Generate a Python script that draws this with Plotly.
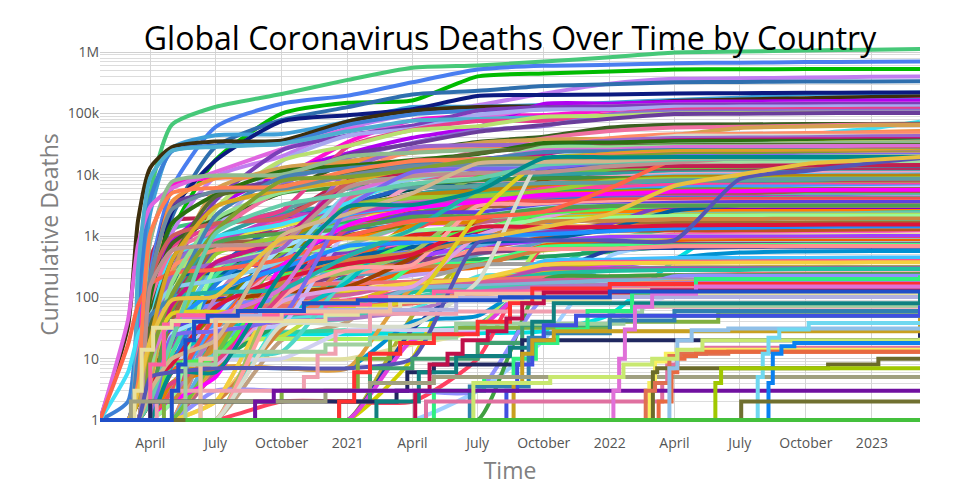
import plotly.graph_objects as go

# ---------------- dates (knots shared by the smooth series) ----------------
grid_dates = ['2020-01-22', '2020-03-01', '2020-03-15', '2020-04-01', '2020-05-01', '2020-07-01',
              '2020-10-01', '2021-01-01', '2021-04-01', '2021-07-01', '2021-10-01', '2022-01-01',
              '2022-04-01', '2022-07-01', '2022-10-01', '2023-01-01', '2023-03-09']

# ---------------- large countries ----------------
top_names = ['US', 'Brazil', 'India', 'Russia', 'Mexico', 'United Kingdom', 'Peru', 'Italy', 'Germany',
             'France', 'Indonesia', 'Iran', 'Colombia', 'Argentina', 'Spain', 'Poland', 'Ukraine',
             'South Africa', 'Turkey', 'Japan', 'Romania', 'Philippines', 'Chile', 'Canada', 'Hungary',
             'Vietnam', 'Czechia', 'Malaysia', 'Bulgaria', 'Ecuador', 'Greece', 'Thailand', 'Korea, South',
             'Belgium', 'Pakistan', 'Bangladesh', 'Tunisia', 'Portugal', 'Iraq', 'Egypt', 'Sweden',
             'Netherlands', 'Bolivia', 'Austria', 'Slovakia', 'Guatemala', 'Paraguay', 'Burma', 'Taiwan',
             'Australia']
top_colors = ['#46c878', '#4a7ef0', '#00bb00', '#c07ef0', '#2f6fae', '#3fa0d8', '#0c1a80', '#3d2e0c', '#ff10d2',
              '#3c7fd6', '#b000f0', '#e066e0', '#7a3fb8', '#a8a8f0', '#4eb0d0', '#e83e8c', '#8c6fd0',
              '#b8e070', '#6a3d9a', '#40e0f8', '#3a6020', '#f070a0', '#d4a050', '#f39040', '#ff8c69',
              '#d6dccc', '#9966cc', '#20b2aa', '#c71585', '#2a7010', '#87ceeb', '#e0d020', '#ff6347',
              '#8fbc8f', '#556b2f', '#90e090', '#da70d6', '#cd5c5c', '#4682b4', '#daa520', '#6a8aa0',
              '#ff7f50', '#80a030', '#bc8f8f', '#7b68ee', '#66cdaa', '#d2b48c', '#008b8b', '#5555b5',
              '#e8c040']
top_deaths = [
    [1, 1, 60, 5100, 65000, 128000, 207000, 352000, 555000, 605000, 700000, 825000, 985000, 1018000, 1062000, 1092000, 1123000],
    [1, 1, 1, 240, 6000, 60000, 144000, 195000, 322000, 520000, 598000, 619000, 660000, 672000, 686000, 693000, 699000],
    [1, 1, 2, 40, 1150, 17400, 99000, 149000, 162000, 402000, 449000, 481000, 521000, 525000, 528700, 530700, 530780],
    [1, 1, 1, 17, 1100, 9300, 20000, 57000, 99000, 136000, 210000, 306000, 366000, 373000, 385000, 395000, 399000],
    [1, 1, 1, 28, 2000, 28500, 78000, 126500, 204000, 234000, 279000, 299000, 323000, 326000, 330000, 331000, 333000],
    [1, 1, 21, 2400, 27000, 44000, 46000, 74000, 127000, 128000, 137000, 149000, 166000, 180000, 208000, 213000, 220000],
    [1, 1, 1, 30, 2500, 17000, 74000, 93000, 117000, 192000, 199000, 202700, 212000, 213500, 216500, 219000, 219500],
    [1, 34, 1800, 13000, 28000, 34800, 35900, 74000, 110000, 127500, 131000, 137500, 160000, 169000, 177000, 185000, 188000],
    [1, 1, 10, 900, 6700, 9000, 9500, 34000, 77000, 91000, 94000, 113000, 130000, 141000, 150000, 163000, 168000],
    [1, 2, 90, 4000, 24000, 29800, 32000, 65000, 96000, 111000, 117000, 126000, 143000, 150000, 156000, 162000, 165000],
    [1, 1, 1, 150, 800, 3000, 10800, 22300, 40000, 60000, 142000, 144000, 155000, 156500, 158000, 160600, 160900],
    [1, 43, 720, 3000, 6000, 11100, 26000, 55000, 62000, 84000, 122000, 131000, 140000, 141500, 144500, 144700, 144900],
    [1, 1, 1, 16, 270, 3800, 25000, 43500, 63000, 111000, 126000, 130000, 139000, 140000, 141700, 142400, 142700],
    [1, 1, 1, 24, 200, 1300, 16500, 43300, 56000, 94000, 115600, 117200, 128000, 129000, 130000, 130400, 130500],
    [1, 1, 290, 9000, 24500, 28400, 32000, 51000, 75800, 81000, 86800, 90000, 102500, 108000, 114000, 117000, 119500],
    [1, 1, 1, 57, 650, 1450, 2600, 28600, 54000, 75000, 76000, 97000, 115000, 116500, 117500, 118600, 119000],
    [1, 1, 1, 22, 300, 1300, 6800, 18900, 33000, 52500, 62000, 95000, 107000, 108500, 109500, 110000, 110500],
    [1, 1, 1, 5, 100, 2800, 17000, 29500, 53000, 62000, 88000, 91000, 100000, 101600, 102200, 102600, 102600],
    [1, 1, 1, 170, 3300, 5200, 8400, 21000, 32000, 50000, 65000, 82000, 98000, 99000, 101000, 101400, 101400],
    [1, 6, 24, 60, 450, 980, 1560, 3450, 9200, 14900, 18100, 18400, 28500, 31400, 45000, 57000, 73000],
    [1, 1, 1, 70, 750, 1900, 5100, 15800, 24000, 34200, 41500, 58800, 65400, 65800, 67000, 67400, 67700],
    [1, 1, 12, 90, 570, 1250, 5600, 9300, 13400, 24500, 39000, 51500, 59000, 60500, 63000, 65800, 66000],
    [1, 1, 1, 4, 230, 5700, 12900, 16600, 23000, 33000, 37500, 39000, 44500, 58000, 61000, 64000, 64400],
    [1, 1, 2, 110, 3600, 8700, 9300, 15700, 23000, 26300, 28000, 30400, 37800, 42000, 45000, 49700, 51700],
    [1, 1, 1, 15, 310, 590, 750, 9500, 24500, 30000, 30300, 39500, 45600, 46300, 47700, 48600, 48700],
    [1, 1, 1, 1, 1, 1, 35, 35, 35, 180, 20000, 32500, 43000, 43090, 43150, 43180, 43186],
    [1, 1, 1, 9, 230, 350, 620, 11600, 27600, 30300, 30800, 36200, 39700, 40300, 41000, 42500, 42800],
    [1, 1, 1, 43, 100, 121, 136, 471, 1290, 5700, 27500, 31500, 35500, 35800, 36400, 36900, 36960],
    [1, 1, 1, 8, 75, 370, 860, 7600, 15600, 18000, 21700, 31500, 36500, 37200, 37900, 38100, 38200],
    [1, 1, 2, 98, 1600, 4700, 11400, 14000, 17400, 21800, 32900, 33600, 35500, 35700, 35900, 36000, 36000],
    [1, 1, 1, 50, 140, 190, 400, 4800, 8400, 12800, 14800, 21000, 28600, 29700, 32600, 34000, 34700],
    [1, 1, 1, 12, 54, 58, 59, 67, 94, 2200, 17600, 21700, 27600, 30700, 33000, 33900, 34000],
    [1, 17, 75, 165, 248, 282, 415, 980, 1740, 2030, 2500, 6000, 17600, 24600, 28400, 32200, 34000],
    [1, 1, 4, 830, 7600, 9750, 10000, 19900, 22800, 25200, 25600, 28400, 31000, 31700, 32700, 33400, 33700],
    [1, 1, 1, 34, 390, 4400, 6400, 10600, 14600, 22500, 28200, 29000, 30300, 30400, 30600, 30640, 30650],
    [1, 1, 1, 6, 170, 1900, 5100, 7600, 8900, 15200, 27700, 28100, 29100, 29140, 29320, 29440, 29445],
    [1, 1, 1, 10, 40, 50, 140, 4700, 10000, 16400, 25000, 25600, 28400, 28600, 29200, 29300, 29300],
    [1, 1, 1, 190, 980, 1600, 1970, 7100, 16900, 17100, 18000, 19000, 22000, 24300, 25000, 25800, 26000],
    [1, 1, 10, 50, 100, 2160, 9000, 12800, 15000, 17500, 23400, 24200, 25200, 25300, 25360, 25370, 25375],
    [1, 1, 2, 20, 400, 3000, 5600, 7700, 12800, 16500, 18000, 22000, 24400, 24600, 24700, 24800, 24810],
    [1, 1, 3, 200, 2700, 5400, 5900, 9700, 13800, 14600, 14900, 15300, 18300, 19000, 20300, 22500, 23700],
    [1, 1, 4, 1100, 5000, 6100, 6400, 11500, 16600, 17800, 18200, 20900, 22100, 22400, 22700, 22900, 22990],
    [1, 1, 1, 10, 110, 1200, 7900, 9200, 12000, 17600, 18800, 19600, 21800, 21950, 22150, 22300, 22330],
    [1, 1, 1, 150, 580, 700, 800, 6200, 9500, 10700, 11000, 13800, 15800, 18700, 20500, 21800, 22000],
    [1, 1, 1, 1, 23, 28, 48, 2800, 11000, 12500, 12800, 16800, 19900, 20100, 20500, 20900, 21000],
    [1, 1, 1, 2, 20, 1100, 3200, 4800, 7100, 8700, 14500, 16100, 17700, 18500, 19800, 20000, 20100],
    [1, 1, 1, 3, 10, 20, 1000, 2300, 5000, 15300, 16200, 16700, 18800, 19100, 19500, 19800, 19900],
    [1, 1, 1, 1, 6, 6, 250, 3000, 3200, 5400, 18700, 19100, 19400, 19400, 19430, 19480, 19490],
    [1, 1, 1, 5, 6, 7, 7, 7, 10, 780, 846, 851, 855, 8500, 11500, 15600, 18500],
    [1, 1, 3, 20, 90, 104, 900, 909, 910, 915, 1400, 2300, 6600, 10000, 15000, 17500, 19500],
]

# ---------------- medium countries ----------------
mid_names = ['Georgia', 'Croatia', 'Serbia', 'Sri Lanka', 'Morocco', 'Bosnia and Herzegovina', 'Kazakhstan',
             'Jordan', 'Switzerland', 'Israel', 'Nepal', 'Moldova', 'Honduras', 'Lebanon', 'Cuba', 'Azerbaijan',
             'Lithuania', 'Saudi Arabia', 'Afghanistan', 'Ethiopia', 'Uruguay', 'Costa Rica', 'Finland',
             'Ireland', 'Denmark', 'Belarus', 'Slovenia', 'Algeria', 'Libya', 'Latvia', 'Venezuela', 'Kenya',
             'Zimbabwe', 'Norway', 'Sudan', 'Oman', 'Dominican Republic', 'Trinidad and Tobago', 'El Salvador',
             'Namibia', 'Zambia', 'Jamaica', 'Uganda', 'Albania', 'Kosovo', 'Syria', 'Nigeria',
             'North Macedonia', 'Armenia', 'Panama', 'West Bank and Gaza', 'Yemen', 'Angola',
             'Congo (Kinshasa)', 'Bahrain']
mid_colors = ['#d0a020', '#007890', '#005040', '#50d8c8', '#60a890', '#a0e0a0', '#4050e0', '#e06090', '#c02050',
              '#2060c0', '#70c040', '#b03060', '#30a0a0', '#f0a0c0', '#a04000', '#60c0f0', '#8080ff', '#409040',
              '#e0e040', '#c080c0', '#00c0c0', '#ff6020', '#8040c0', '#40c080', '#d04040', '#6060a0', '#a0a040',
              '#ff40a0', '#40a0ff', '#c0c0ff', '#808000', '#20c060', '#e08000', '#0060a0', '#a06040', '#40e0a0',
              '#c040c0', '#e0a0e0', '#2080e0', '#a0c060', '#f05050', '#50f050', '#ffa0a0', '#6040e0', '#a0e0ff',
              '#e04080', '#50a050', '#b8860b', '#9acd32', '#5f9ea0', '#ff00ff', '#98fb98', '#cd853f',
              '#1e90ff', '#dc143c']
mid_deaths = [
    [1, 1, 1, 1, 4, 15, 600, 2500, 3900, 5900, 11600, 14000, 16700, 16800, 16900, 17000, 17100],
    [1, 1, 1, 6, 80, 110, 320, 4100, 6500, 8250, 8900, 12400, 15600, 16000, 16700, 17600, 17900],
    [1, 1, 1, 15, 200, 280, 760, 3200, 5800, 7100, 7900, 12700, 15800, 16100, 16800, 17500, 17900],
    [1, 1, 1, 2, 7, 11, 13, 210, 560, 3300, 13300, 15000, 16500, 16530, 16800, 16830, 16840],
    [1, 1, 1, 50, 180, 230, 1800, 7400, 8800, 9300, 14300, 14800, 16050, 16100, 16270, 16290, 16296],
    [1, 1, 1, 10, 50, 180, 750, 4000, 7000, 9300, 11800, 14700, 15700, 15800, 16000, 16200, 16280],
    [1, 1, 1, 1, 19, 190, 1900, 2900, 3500, 4900, 12500, 13600, 13700, 13700, 13700, 13700, 13700],
    [1, 1, 1, 5, 9, 9, 130, 4000, 8500, 10100, 10800, 12500, 14000, 14070, 14100, 14120, 14122],
    [1, 1, 2, 430, 1750, 1960, 2070, 8300, 10400, 10900, 11200, 12300, 13700, 13900, 14100, 14300, 14400],
    [1, 1, 1, 16, 210, 320, 1700, 3300, 6200, 6430, 7900, 8250, 10600, 11000, 11500, 12000, 12400],
    [1, 1, 1, 1, 1, 11, 500, 1970, 3040, 9100, 11100, 11600, 11950, 11950, 12000, 12020, 12020],
    [1, 1, 1, 2, 80, 800, 1200, 2800, 4800, 6200, 6800, 10500, 11400, 11600, 11800, 11990, 12000],
    [1, 1, 1, 20, 110, 900, 2400, 3100, 4700, 6800, 10100, 10400, 10880, 10960, 11000, 11080, 11100],
    [1, 1, 1, 18, 25, 34, 420, 1460, 6800, 7880, 8300, 9200, 10300, 10400, 10700, 10800, 10800],
    [1, 1, 1, 6, 64, 86, 120, 150, 440, 1800, 8300, 8320, 8530, 8530, 8530, 8530, 8530],
    [1, 1, 1, 5, 25, 280, 420, 2800, 3600, 4800, 6000, 8400, 9700, 9750, 9900, 10000, 10050],
    [1, 1, 1, 8, 45, 78, 100, 2300, 3700, 4400, 5600, 7200, 8700, 9000, 9300, 9500, 9650],
    [1, 1, 1, 16, 160, 1700, 5000, 6200, 7000, 8100, 8760, 8880, 9030, 9170, 9360, 9450, 9600],
    [1, 1, 1, 4, 36, 760, 1460, 2190, 2460, 5100, 7200, 7370, 7680, 7720, 7800, 7840, 7900],
    [1, 1, 1, 1, 3, 100, 1180, 1900, 3880, 4350, 6200, 6950, 7510, 7540, 7570, 7570, 7570],
    [1, 1, 1, 1, 10, 28, 50, 180, 1900, 5900, 6090, 6260, 7200, 7370, 7500, 7600, 7650],
    [1, 1, 1, 2, 6, 30, 1000, 2200, 3000, 4600, 6800, 7300, 8400, 8700, 9000, 9200, 9250],
    [1, 1, 1, 20, 210, 330, 345, 560, 850, 980, 1140, 1600, 3600, 4900, 6300, 8100, 9200],
    [1, 1, 1, 70, 1260, 1740, 1800, 2240, 4730, 4990, 5300, 5900, 6900, 7500, 8200, 8600, 8700],
    [1, 1, 1, 90, 450, 600, 650, 1330, 2420, 2540, 2680, 3300, 6100, 6500, 7000, 7600, 8000],
    [1, 1, 1, 2, 60, 560, 770, 1410, 2200, 3100, 4700, 5700, 6600, 6920, 7100, 7120, 7120],
    [1, 1, 1, 12, 90, 110, 160, 3000, 4200, 4400, 4700, 5600, 6500, 6700, 7000, 7050, 7100],
    [1, 1, 1, 60, 440, 900, 1700, 2750, 3100, 3400, 5900, 6280, 6870, 6875, 6880, 6881, 6881],
    [1, 1, 1, 1, 3, 40, 600, 2200, 3000, 3900, 5100, 5500, 6200, 6420, 6430, 6437, 6437],
    [1, 1, 1, 1, 13, 30, 36, 1200, 2300, 2550, 2950, 4400, 5500, 5700, 5900, 6100, 6200],
    [1, 1, 1, 9, 10, 60, 580, 1030, 1620, 3050, 4600, 5300, 5700, 5730, 5800, 5840, 5850],
    [1, 1, 1, 1, 20, 200, 700, 1670, 2300, 3700, 5200, 5380, 5650, 5660, 5680, 5690, 5690],
    [1, 1, 1, 1, 4, 7, 230, 360, 1520, 1740, 4650, 5200, 5480, 5570, 5600, 5670, 5680],
    [1, 1, 1, 20, 210, 250, 275, 440, 660, 800, 880, 1330, 2600, 3200, 3900, 4600, 5500],
    [1, 1, 1, 2, 40, 700, 840, 1470, 2280, 3000, 3200, 4800, 4900, 4950, 5000, 5000, 5020],
    [1, 1, 1, 2, 12, 230, 970, 1500, 1700, 4000, 4100, 4120, 4260, 4260, 4620, 4620, 4630],
    [1, 1, 1, 40, 420, 750, 2100, 2400, 3400, 3880, 4240, 4370, 4380, 4380, 4380, 4384, 4384],
    [1, 1, 1, 3, 8, 8, 85, 140, 150, 1000, 2000, 3400, 3800, 4000, 4200, 4300, 4330],
    [1, 1, 1, 1, 8, 160, 850, 1330, 1800, 2100, 3700, 4100, 4130, 4130, 4230, 4230, 4230],
    [1, 1, 1, 1, 1, 1, 140, 260, 540, 3200, 3550, 3900, 4020, 4070, 4080, 4090, 4090],
    [1, 1, 1, 1, 3, 50, 350, 470, 1220, 3600, 3670, 3940, 3980, 4020, 4040, 4050, 4057],
    [1, 1, 1, 1, 8, 10, 220, 300, 780, 1260, 2350, 2760, 3150, 3300, 3450, 3520, 3540],
    [1, 1, 1, 1, 1, 1, 100, 300, 340, 3100, 3200, 3580, 3600, 3620, 3630, 3630, 3630],
    [1, 1, 1, 15, 31, 60, 440, 1180, 2350, 2450, 2950, 3250, 3500, 3580, 3590, 3595, 3595],
    [1, 1, 1, 1, 25, 50, 640, 1350, 1800, 2100, 2900, 3120, 3200, 3200, 3210, 3210, 3212],
    [1, 1, 1, 2, 4, 9, 110, 1300, 1830, 2000, 2500, 3100, 3150, 3150, 3160, 3163, 3163],
    [1, 1, 1, 2, 60, 750, 1100, 1300, 2060, 2130, 2800, 3080, 3140, 3150, 3160, 3160, 3160],
    [1, 1, 1, 5, 70, 350, 850, 2700, 4600, 5500, 7000, 8100, 9300, 9400, 9550, 9600, 9650],
    [1, 1, 1, 1, 20, 500, 1000, 3000, 4200, 4500, 5400, 7900, 8600, 8600, 8700, 8710, 8720],
    [1, 1, 1, 30, 250, 1300, 2600, 5900, 6200, 6500, 7300, 7500, 8100, 8300, 8500, 8600, 8630],
    [1, 1, 1, 1, 2, 5, 320, 1500, 2800, 3600, 4700, 4900, 5300, 5400, 5650, 5700, 5708],
    [1, 1, 1, 1, 2, 300, 580, 610, 1200, 1370, 1850, 1980, 2140, 2150, 2157, 2159, 2159],
    [1, 1, 1, 2, 2, 19, 180, 405, 530, 900, 1700, 1770, 1890, 1900, 1910, 1930, 1933],
    [1, 1, 1, 16, 37, 130, 300, 690, 780, 1000, 1070, 1200, 1340, 1360, 1420, 1460, 1464],
    [1, 1, 1, 4, 8, 70, 200, 350, 500, 1380, 1390, 1400, 1490, 1510, 1530, 1540, 1543],
]

# ---------------- small countries ----------------
low_names = ['Cambodia', 'Estonia', 'Montenegro', 'Kyrgyzstan', 'Botswana', 'Malawi', 'Kuwait', 'New Zealand',
             'Mozambique', 'United Arab Emirates', 'Mongolia', 'Cameroon', 'Senegal', 'Singapore', 'Uzbekistan',
             'Ghana', 'Rwanda', 'Somalia', 'Cyprus', 'Luxembourg', 'Madagascar', 'Suriname', 'Guyana',
             'Mauritius', 'Mauritania', 'Malta', 'Fiji', 'Haiti', 'Tanzania', 'Bahamas', "Cote d'Ivoire", 'Laos',
             'Mali', 'Lesotho', 'Belize', 'Papua New Guinea', 'Qatar', 'Barbados', 'Saint Lucia', 'Cabo Verde',
             'Guinea', 'Burkina Faso', 'Congo (Brazzaville)', 'Maldives', 'Niger', 'Gabon', 'Liberia', 'Togo',
             'Iceland', 'Nicaragua', 'Grenada', 'Brunei', 'Comoros', 'Chad', 'Djibouti', 'Equatorial Guinea',
             'Benin', 'Guinea-Bissau', 'Gambia', 'Eswatini', 'Sierra Leone']
low_colors = ['#b0b030', '#00a0e0', '#ff80ff', '#408080', '#c0a080', '#8000c0', '#ff8000', '#00e0e0', '#c06080',
              '#80c0a0', '#d0d000', '#6080ff', '#e02020', '#30d0a0', '#a07030', '#7030a0', '#f0c060', '#3030c0',
              '#c0e040', '#ff60c0', '#90b0d0', '#50c0c0', '#c05020', '#e0e0a0', '#a040ff', '#20a060', '#ff4060',
              '#60a0c0', '#b0f060', '#c0a0f0', '#f06000', '#a0d0ff', '#804080', '#40ff80', '#d08040', '#2040a0',
              '#ff9090', '#0090d0', '#e040e0', '#a0a0a0', '#40c0ff', '#c0c000', '#ff5090', '#50e0e0', '#e0b020',
              '#6090a0', '#b050b0', '#20c0a0', '#d0d0f0', '#f07070', '#40a040', '#9090ff', '#e0a040', '#d060a0',
              '#7fb3d5', '#e59866', '#48c9b0', '#af7ac5', '#f4d03f', '#5dade2', '#ec7063']
low_deaths = [
    [1, 1, 1, 1, 1, 1, 1, 1, 50, 640, 2900, 3010, 3050, 3056, 3056, 3056, 3056],
    [1, 1, 1, 3, 50, 69, 70, 230, 1100, 1270, 1530, 2000, 2550, 2640, 2780, 2930, 2960],
    [1, 1, 1, 1, 9, 15, 220, 700, 1480, 1640, 2300, 2500, 2700, 2780, 2800, 2800, 2800],
    [1, 1, 1, 1, 8, 90, 1060, 1350, 1500, 2250, 2730, 2900, 2990, 2990, 2991, 2991, 2991],
    [1, 1, 1, 1, 1, 1, 20, 40, 400, 1600, 2400, 2630, 2690, 2760, 2780, 2800, 2800],
    [1, 1, 1, 1, 3, 20, 180, 190, 1100, 1160, 2300, 2570, 2630, 2660, 2680, 2680, 2686],
    [1, 1, 1, 1, 9, 370, 650, 940, 1460, 2400, 2460, 2480, 2550, 2560, 2560, 2570, 2570],
    [1, 1, 1, 1, 19, 22, 25, 25, 26, 26, 28, 52, 400, 1700, 2000, 2400, 2450],
    [1, 1, 1, 1, 1, 6, 70, 160, 780, 1660, 1930, 2100, 2200, 2210, 2220, 2230, 2240],
    [1, 1, 1, 2, 110, 310, 440, 720, 1570, 2010, 2140, 2160, 2300, 2320, 2340, 2348, 2349],
    [1, 1, 1, 1, 1, 1, 1, 1, 10, 1000, 1900, 2090, 2170, 2170, 2170, 2180, 2180],
    [1, 1, 1, 7, 60, 280, 420, 450, 560, 1320, 1700, 1850, 1920, 1930, 1960, 1960, 1970],
    [1, 1, 1, 1, 9, 90, 320, 410, 1020, 1200, 1880, 1890, 1960, 1970, 1970, 1970, 1971],
    [1, 1, 1, 3, 15, 26, 27, 29, 30, 36, 240, 830, 1320, 1570, 1670, 1720, 1722],
    [1, 1, 1, 2, 10, 20, 500, 620, 630, 900, 1270, 1560, 1630, 1630, 1637, 1637, 1637],
    [1, 1, 1, 5, 16, 120, 310, 340, 790, 800, 1230, 1390, 1450, 1450, 1460, 1460, 1462],
    [1, 1, 1, 1, 1, 2, 33, 120, 300, 1300, 1460, 1460, 1460, 1460, 1460, 1460, 1468],
    [1, 1, 1, 1, 28, 90, 99, 130, 330, 1280, 1330, 1350, 1360, 1360, 1360, 1360, 1361],
    [1, 1, 1, 9, 15, 19, 23, 130, 320, 400, 580, 700, 950, 1060, 1130, 1250, 1290],
    [1, 1, 1, 30, 90, 110, 125, 510, 790, 820, 840, 940, 1050, 1100, 1160, 1200, 1230],
    [1, 1, 1, 1, 1, 15, 230, 260, 280, 970, 1000, 1380, 1390, 1390, 1410, 1410, 1410],
    [1, 1, 1, 1, 1, 14, 110, 170, 240, 800, 1150, 1290, 1350, 1385, 1390, 1390, 1390],
    [1, 1, 1, 1, 6, 17, 60, 165, 260, 580, 950, 1210, 1230, 1240, 1250, 1280, 1288],
    [1, 1, 1, 3, 10, 10, 10, 10, 17, 30, 630, 1000, 1000, 1010, 1030, 1040, 1047],
    [1, 1, 1, 1, 2, 120, 160, 270, 440, 700, 820, 960, 980, 980, 982, 997, 997],
    [1, 1, 1, 1, 4, 9, 40, 220, 410, 420, 460, 560, 680, 770, 810, 820, 830],
    [1, 1, 1, 1, 1, 1, 2, 2, 2, 10, 680, 730, 860, 870, 880, 880, 883],
    [1, 1, 1, 1, 15, 110, 230, 240, 250, 500, 750, 810, 830, 840, 850, 860, 860],
    [1, 1, 1, 1, 16, 21, 21, 21, 21, 29, 730, 840, 840, 840, 840, 845, 846],
    [1, 1, 1, 1, 11, 11, 140, 180, 230, 330, 700, 780, 810, 830, 835, 840, 840],
    [1, 1, 1, 1, 15, 72, 120, 140, 270, 310, 700, 800, 820, 830, 830, 830, 830],
    [1, 1, 1, 1, 1, 1, 1, 1, 1, 3, 20, 470, 730, 760, 760, 760, 760],
    [1, 1, 1, 1, 13, 110, 130, 250, 380, 530, 610, 740, 740, 740, 742, 743, 743],
    [1, 1, 1, 1, 1, 1, 40, 50, 320, 360, 660, 700, 700, 710, 720, 723, 724],
    [1, 1, 1, 1, 2, 2, 30, 310, 320, 340, 600, 620, 680, 680, 688, 688, 688],
    [1, 1, 1, 1, 1, 1, 1, 1, 30, 190, 230, 590, 640, 660, 670, 670, 670],
    [1, 1, 1, 1, 12, 120, 220, 250, 310, 600, 610, 620, 680, 680, 685, 686, 686],
    [1, 1, 1, 1, 6, 7, 7, 7, 40, 50, 230, 310, 440, 540, 560, 570, 570],
    [1, 1, 1, 1, 1, 1, 1, 1, 20, 30, 250, 340, 370, 380, 400, 410, 410],
    [1, 1, 1, 1, 1, 30, 100, 120, 180, 340, 350, 400, 410, 410, 412, 413, 413],
    [1, 1, 1, 1, 16, 37, 66, 80, 90, 140, 390, 410, 440, 440, 440, 445, 445],
    [1, 1, 1, 1, 44, 53, 60, 120, 160, 180, 290, 370, 380, 380, 383, 387, 387],
    [1, 1, 1, 1, 1, 38, 80, 90, 130, 150, 340, 380, 380, 385, 390, 390, 390],
    [1, 1, 1, 1, 1, 1, 40, 51, 64, 220, 230, 290, 300, 300, 310, 310, 310],
    [1, 1, 1, 1, 29, 67, 70, 80, 180, 190, 260, 290, 310, 310, 314, 314, 314],
    [1, 1, 1, 1, 9, 40, 50, 68, 140, 160, 190, 290, 300, 305, 305, 306, 306],
    [1, 1, 1, 1, 16, 41, 80, 85, 85, 150, 290, 290, 295, 295, 295, 295, 295],
    [1, 1, 1, 1, 8, 14, 49, 70, 120, 160, 240, 270, 280, 280, 290, 290, 290],
    [1, 1, 1, 2, 10, 10, 10, 29, 29, 30, 33, 36, 120, 170, 210, 230, 245],
    [1, 1, 1, 1, 3, 74, 150, 170, 180, 190, 210, 220, 230, 240, 245, 245, 245],
    [1, 1, 1, 1, 1, 1, 1, 1, 1, 1, 190, 220, 230, 230, 236, 238, 238],
    [1, 1, 1, 1, 1, 3, 3, 3, 3, 3, 98, 110, 220, 225, 225, 225, 225],
    [1, 1, 1, 1, 1, 7, 7, 7, 140, 140, 150, 160, 160, 160, 161, 161, 161],
    [1, 1, 1, 1, 50, 75, 95, 110, 170, 174, 190, 193, 194, 194, 194, 194, 194],
    [1, 1, 1, 1, 3, 55, 61, 61, 140, 155, 170, 189, 189, 189, 189, 189, 189],
    [1, 1, 1, 1, 1, 40, 80, 86, 100, 110, 140, 160, 180, 183, 183, 183, 183],
    [1, 1, 1, 1, 2, 26, 40, 45, 100, 140, 150, 160, 163, 163, 163, 163, 163],
    [1, 1, 1, 1, 2, 25, 40, 45, 60, 120, 150, 160, 170, 175, 176, 176, 176],
    [1, 1, 1, 1, 1, 2, 120, 130, 170, 200, 340, 360, 365, 370, 370, 372, 372],
    [1, 1, 1, 1, 1, 15, 90, 390, 670, 700, 1230, 1390, 1400, 1420, 1422, 1424, 1425],
    [1, 1, 1, 1, 3, 60, 72, 74, 79, 121, 121, 125, 125, 125, 126, 126, 126],
]

# ---------------- very small counts (drawn as steps) ----------------
step_names = ['Andorra', 'San Marino', 'Liechtenstein', 'Monaco', 'Eritrea', 'Central African Republic',
              'South Sudan', 'Sao Tome and Principe', 'Burundi', 'Saint Vincent', 'Antigua and Barbuda',
              'Timor-Leste', 'Seychelles', 'Bhutan', 'Dominica', 'Saint Kitts and Nevis', 'Diamond Princess',
              'Holy See', 'MS Zaandam', 'Solomon Islands', 'Tonga', 'Vanuatu', 'Marshall Islands', 'Kiribati',
              'Micronesia', 'Samoa', 'Palau', 'Nauru', 'Korea, North', 'Tuvalu', 'Tajikistan', 'Western Sahara']
step_colors = ['#ff60a0', '#e8e0a0', '#f0a0b0', '#80b040', '#40a070', '#b0b0e0', '#f0c0a0', '#a0d0a0', '#202860',
               '#108080', '#ff3030', '#c0104a', '#30f080', '#3080b0', '#4050e0', '#c8a020', '#a0a080', '#e070a0',
               '#7010a0', '#e070d8', '#f8f060', '#6b6b2a', '#e07050', '#e86a40', '#90c0e8', '#c8e870', '#0a80f0',
               '#70d8f0', '#a0c800', '#707030', '#1f4fc8', '#44c03c']
step_dates = [
    ['2020-01-22', '2020-03-22', '2020-04-01', '2020-04-20', '2020-05-10', '2020-10-01', '2020-12-01', '2021-02-01', '2021-05-01', '2022-01-01', '2023-03-09'],
    ['2020-01-22', '2020-03-01', '2020-03-10', '2020-03-20', '2020-04-05', '2020-05-01', '2020-12-01', '2021-01-15', '2021-03-15', '2021-05-01', '2022-01-01', '2023-03-09'],
    ['2020-01-22', '2020-04-10', '2020-05-01', '2020-11-01', '2020-11-20', '2020-12-15', '2021-02-01', '2021-06-01', '2022-02-01', '2023-03-09'],
    ['2020-01-22', '2020-04-20', '2020-10-01', '2020-12-01', '2021-01-15', '2021-03-01', '2021-06-01', '2022-01-01', '2022-06-01', '2023-03-09'],
    ['2020-01-22', '2020-12-20', '2021-02-01', '2021-04-01', '2021-07-01', '2021-09-01', '2022-01-01', '2023-03-09'],
    ['2020-01-22', '2020-05-22', '2020-06-10', '2020-07-01', '2020-09-01', '2021-02-01', '2021-06-01', '2021-09-01', '2022-01-01', '2023-03-09'],
    ['2020-01-22', '2020-05-14', '2020-06-10', '2020-07-01', '2020-10-01', '2021-03-01', '2021-06-01', '2022-01-01', '2023-03-09'],
    ['2020-01-22', '2020-04-30', '2020-05-20', '2020-07-01', '2020-12-01', '2021-02-01', '2021-06-01', '2022-01-20', '2022-02-15', '2023-03-09'],
    ['2020-01-22', '2020-04-01', '2021-03-10', '2021-03-25', '2021-05-01', '2021-09-01', '2023-03-09'],
    ['2020-01-22', '2021-02-10', '2021-04-10', '2021-06-01', '2021-08-15', '2021-09-15', '2021-10-15', '2023-03-09'],
    ['2020-01-22', '2020-12-20', '2021-01-10', '2021-02-01', '2021-03-15', '2021-05-01', '2021-07-01', '2021-08-15', '2021-09-15', '2022-01-01', '2023-03-09'],
    ['2020-01-22', '2021-04-05', '2021-04-25', '2021-05-20', '2021-06-10', '2021-07-15', '2021-08-10', '2021-09-01', '2021-10-01', '2022-03-01', '2023-03-09'],
    ['2020-01-22', '2021-05-01', '2021-07-10', '2021-08-20', '2021-09-20', '2021-10-20', '2021-12-01', '2022-02-01', '2022-05-01', '2023-03-09'],
    ['2020-01-22', '2021-06-20', '2021-08-25', '2021-09-10', '2021-10-01', '2022-01-01', '2022-04-01', '2023-03-09'],
    ['2020-01-22', '2021-08-10', '2021-08-25', '2021-09-15', '2021-10-01', '2021-11-15', '2023-03-09'],
    ['2020-01-22', '2021-08-20', '2021-09-01', '2021-09-15', '2021-10-15', '2023-03-09'],
    ['2020-01-22', '2020-03-05', '2020-11-10', '2020-12-01', '2021-02-01', '2021-05-01', '2023-03-09'],
    ['2020-01-22', '2021-04-20', '2022-03-15', '2022-03-22', '2022-04-05', '2022-05-15', '2023-03-09'],
    ['2020-01-22', '2020-08-25', '2020-09-20', '2023-03-09'],
    ['2020-01-22', '2022-01-06', '2022-01-14', '2022-01-22', '2022-02-05', '2022-03-01', '2022-05-01', '2023-03-09'],
    ['2020-01-22', '2022-02-25', '2022-03-05', '2022-03-20', '2022-05-01', '2023-03-09'],
    ['2020-01-22', '2022-03-02', '2022-03-08', '2022-11-01', '2023-01-10', '2023-03-09'],
    ['2020-01-22', '2022-02-20', '2022-03-05', '2022-03-25', '2022-04-10', '2022-06-15', '2023-03-09'],
    ['2020-01-22', '2022-03-10', '2022-03-28', '2022-04-05', '2022-04-15', '2022-05-01', '2023-03-09'],
    ['2020-01-22', '2022-03-25', '2022-04-05', '2022-04-25', '2022-06-15', '2023-03-09'],
    ['2020-01-22', '2021-06-25', '2021-10-10', '2022-01-20', '2022-03-01', '2022-04-05', '2022-05-10', '2023-03-09'],
    ['2020-01-22', '2022-08-10', '2022-08-16', '2022-08-28', '2022-09-15', '2023-03-09'],
    ['2020-01-22', '2022-07-26', '2022-08-02', '2022-08-10', '2022-08-25', '2022-10-05', '2023-03-09'],
    ['2020-01-22', '2022-05-28', '2022-06-05', '2023-03-09'],
    ['2020-01-22', '2022-07-03', '2023-03-09'],
    ['2020-01-22', '2020-05-01', '2020-05-10', '2020-05-20', '2020-06-01', '2020-06-20', '2020-08-01', '2020-11-01', '2021-01-15', '2021-08-01', '2022-01-01', '2023-03-09'],
    ['2020-05-20', '2023-03-09'],
]
step_deaths = [
    [1, 1, 8, 36, 51, 55, 76, 101, 125, 140, 165],
    [1, 1, 3, 14, 32, 41, 52, 65, 85, 90, 110, 126],
    [1, 2, 3, 5, 12, 28, 54, 59, 70, 89],
    [1, 2, 3, 3, 10, 24, 32, 40, 58, 67],
    [1, 2, 7, 10, 18, 35, 50, 103],
    [1, 1, 10, 50, 62, 63, 98, 100, 101, 113],
    [1, 1, 10, 45, 59, 100, 115, 133, 140],
    [1, 1, 8, 13, 17, 22, 37, 56, 73, 80],
    [1, 2, 3, 6, 8, 20, 38],
    [1, 2, 6, 11, 15, 40, 80, 124],
    [1, 2, 6, 12, 18, 25, 40, 80, 140, 165, 170],
    [1, 3, 8, 12, 20, 28, 45, 80, 120, 130, 138],
    [1, 3, 5, 10, 18, 30, 60, 120, 200, 230],
    [1, 3.5, 3.5, 22, 26, 42, 60, 70],
    [1, 3, 8, 20, 35, 50, 74],
    [1, 4, 12, 20, 28, 46],
    [1, 2, 2, 3, 4, 5, 5],
    [1, 2, 4, 8, 12, 15, 16],
    [1, 2, 3, 3],
    [1, 3, 10, 30, 70, 115, 150, 160],
    [1, 4, 9, 12, 14, 14],
    [1, 6, 7, 8, 10, 10],
    [1, 3, 4, 11, 12, 13, 13],
    [1, 2, 6, 10, 11, 13, 13],
    [1, 7, 20, 29, 31, 31],
    [1, 4, 5, 8, 10, 14, 20, 22],
    [1, 4, 12, 16, 18, 18],
    [1, 5, 12, 22, 30, 38, 40],
    [1, 4, 7, 7],
    [1, 2, 2],
    [1, 3, 8, 20, 40, 50, 60, 80, 90, 100, 125, 125],
    [1, 1],
]

# ---------------- x-axis tick labels ----------------
x_tick_dates = ['2020-04-01', '2020-07-01', '2020-10-01', '2021-01-01', '2021-04-01', '2021-07-01',
                '2021-10-01', '2022-01-01', '2022-04-01', '2022-07-01', '2022-10-01', '2023-01-01']
x_tick_text = ['April', 'July', 'October', '2021', 'April', 'July', 'October', '2022', 'April', 'July',
               'October', '2023']

fig = go.Figure()

smooth_groups = [(low_names, low_colors, low_deaths),
                 (mid_names, mid_colors, mid_deaths),
                 (top_names, top_colors, top_deaths)]
for names, colors, deaths in smooth_groups:
    for name, color, vals in zip(names, colors, deaths):
        fig.add_trace(go.Scatter(
            x=grid_dates, y=vals, mode='lines', name=name,
            line=dict(color=color, width=4, shape='spline', smoothing=0.6),
        ))

for name, color, dts, vals in zip(step_names, step_colors, step_dates, step_deaths):
    fig.add_trace(go.Scatter(
        x=dts, y=vals, mode='lines', name=name,
        line=dict(color=color, width=4, shape='hv'),
    ))

fig.update_layout(
    width=960, height=500,
    margin=dict(l=92, r=48, t=39, b=86),
    paper_bgcolor='white', plot_bgcolor='white',
    showlegend=False,
    font=dict(family='Open Sans, sans-serif', color='#555555'),
    title=dict(text='Global Coronavirus Deaths Over Time by Country', x=0.5, xref='paper',
               xanchor='center', y=0.938, yref='container', yanchor='middle',
               font=dict(size=32, color='#000000')),
    xaxis=dict(type='date', range=['2020-01-22', '2023-03-09'], tickmode='array',
               tickvals=x_tick_dates, ticktext=x_tick_text, showgrid=True, gridcolor='#d6d6d6',
               zeroline=False, showline=False, ticks='outside', ticklen=8, tickcolor='rgba(0,0,0,0)',
               tickfont=dict(size=14, color='#555555'),
               title=dict(text='Time', standoff=12, font=dict(size=23, color='#808080'))),
    yaxis=dict(type='log', range=[-0.033, 6.083], tickmode='linear', tick0=0, dtick=1, tickformat='~s',
               showgrid=True, gridcolor='#d0d0d0', zeroline=False, showline=False, ticks='',
               minor=dict(dtick='D1', showgrid=True, gridcolor='#dcdcdc'),
               tickfont=dict(size=14, color='#555555'),
               title=dict(text='Cumulative Deaths', standoff=2, font=dict(size=23, color='#808080'))),
)

fig.write_html('out.html')
